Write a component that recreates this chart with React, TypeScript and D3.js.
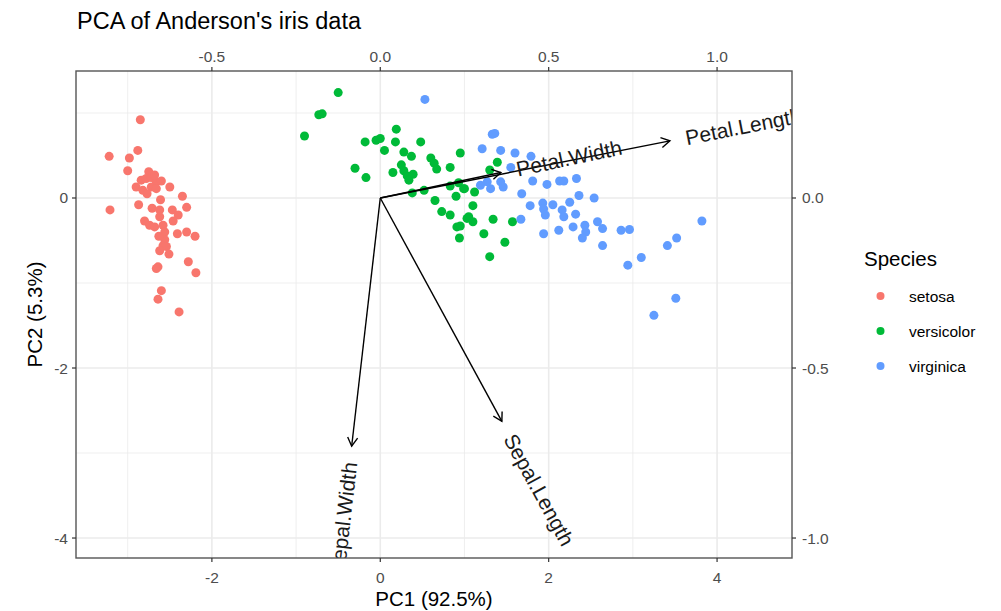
import React from "react";
import * as d3 from "d3";

// Principal component scores (PC1, PC2) per species
const setosa: [number, number][] = [
  [-2.85, 0.92], [-3.22, 0.49], [-2.98, 0.47], [-2.88, 0.56], [-3.0, 0.32], [-2.75, 0.31],
  [-2.84, 0.21], [-2.78, 0.23], [-2.72, 0.24], [-2.66, 0.19], [-2.6, 0.2], [-2.9, 0.13],
  [-2.82, 0.09], [-2.72, 0.13], [-2.66, 0.11], [-2.5, 0.13], [-2.35, 0.02], [-2.61, -0.02],
  [-3.21, -0.14], [-2.87, -0.08], [-2.71, -0.12], [-2.62, -0.14], [-2.47, -0.14], [-2.4, -0.2],
  [-2.3, -0.11], [-2.62, -0.22], [-2.8, -0.27], [-2.74, -0.32], [-2.68, -0.34], [-2.58, -0.32],
  [-2.56, -0.4], [-2.41, -0.42], [-2.3, -0.4], [-2.2, -0.45], [-2.56, -0.49], [-2.58, -0.56],
  [-2.54, -0.57], [-2.62, -0.62], [-2.51, -0.66], [-2.28, -0.75], [-2.19, -0.88], [-2.64, -0.81],
  [-2.66, -0.83], [-2.6, -1.09], [-2.64, -1.19], [-2.39, -1.34], [-2.68, 0.27], [-2.77, 0.05],
  [-2.63, -0.45], [-2.46, -0.27],
];

const versicolor: [number, number][] = [
  [-0.5, 1.24], [-0.73, 0.98], [-0.69, 0.99], [-0.9, 0.73], [-0.18, 0.66], [-0.05, 0.68],
  [0.0, 0.7], [0.19, 0.81], [0.18, 0.66], [0.05, 0.56], [0.48, 0.66], [0.28, 0.54],
  [0.37, 0.49], [0.95, 0.53], [0.6, 0.47], [0.64, 0.41], [0.67, 0.34], [0.83, 0.36],
  [-0.3, 0.35], [-0.17, 0.24], [0.15, 0.3], [0.25, 0.39], [0.28, 0.32], [0.32, 0.26],
  [0.39, 0.28], [0.34, 0.21], [0.38, 0.06], [0.52, 0.09], [0.83, 0.14], [0.93, 0.18],
  [0.99, 0.11], [0.9, 0.02], [0.65, -0.03], [0.73, -0.16], [0.83, -0.2], [1.03, -0.24],
  [0.91, -0.34], [0.95, -0.33], [0.94, -0.47], [1.39, 0.42], [1.3, 0.33], [1.0, 0.11],
  [1.12, 0.07], [1.1, -0.09], [1.05, -0.22], [1.1, -0.28], [1.34, -0.25], [1.57, -0.28],
  [1.23, -0.42], [1.48, -0.52], [1.3, -0.69],
];

const virginica: [number, number][] = [
  [0.53, 1.16], [1.33, 0.75], [1.36, 0.76], [1.21, 0.58], [1.43, 0.56], [1.6, 0.53],
  [1.79, 0.49], [1.55, 0.36], [1.19, 0.15], [1.31, 0.11], [1.43, 0.19], [1.46, 0.13],
  [1.81, 0.2], [1.98, 0.16], [2.13, 0.2], [2.18, 0.2], [2.33, 0.23], [2.36, 0.03],
  [2.54, 0.0], [1.78, -0.09], [1.93, -0.06], [1.94, -0.13], [1.96, -0.2], [2.16, -0.14],
  [2.18, -0.22], [2.32, -0.19], [1.67, -0.25], [2.12, -0.38], [2.29, -0.34], [2.43, -0.32],
  [2.44, -0.4], [2.58, -0.28], [2.64, -0.36], [1.94, -0.42], [2.4, -0.47], [2.64, -0.56],
  [2.86, -0.38], [2.96, -0.37], [2.94, -0.79], [3.82, -0.27], [3.52, -0.47], [3.41, -0.56],
  [3.1, -0.7], [3.51, -1.18], [3.25, -1.38], [1.27, 0.19], [1.68, 0.05], [2.05, -0.08],
  [2.25, -0.05],
];

// Variable loadings on PC1 / PC2
const loadingNames = ["Sepal.Length", "Sepal.Width", "Petal.Length", "Petal.Width"];
const loadingPC1 = [0.361, -0.085, 0.86, 0.358];
const loadingPC2 = [-0.657, -0.73, 0.168, 0.075];

const speciesNames = ["setosa", "versicolor", "virginica"];
const speciesColors = ["#F8766D", "#00BA38", "#619CFF"];

const xMajor = [-2, 0, 2, 4];
const xMinor = [-3, -1, 1, 3];
const yMajor = [0, -2, -4];
const yMinor = [1, -1, -3];
const topTicks = [-0.5, 0, 0.5, 1.0];
const rightTicks = [0, -0.5, -1.0];

const W = 1001;
const H = 611;
const panel = { left: 76, right: 792, top: 71, bottom: 558 };

export default function App() {
  const x = d3.scaleLinear().domain([-3.614, 4.89]).range([panel.left, panel.right]);
  const y = d3.scaleLinear().domain([-4.235, 1.494]).range([panel.bottom, panel.top]);
  // loadings share the panel with a 1/4 scale factor
  const x2 = d3.scaleLinear().domain(x.domain().map((v) => v / 4)).range(x.range());
  const y2 = d3.scaleLinear().domain(y.domain().map((v) => v / 4)).range(y.range());

  const font = "'Liberation Sans', Arial, Helvetica, sans-serif";
  const tickCol = "#4D4D4D";
  const groups = [setosa, versicolor, virginica];

  const ox = x2(0);
  const oy = y2(0);
  const headLen = 10;
  const headAng = Math.PI / 6;

  const arrows = loadingNames.map((name, i) => {
    const ex = x2(loadingPC1[i]);
    const ey = y2(loadingPC2[i]);
    const a = Math.atan2(ey - oy, ex - ox);
    const h1 = [ex - headLen * Math.cos(a - headAng), ey - headLen * Math.sin(a - headAng)];
    const h2 = [ex - headLen * Math.cos(a + headAng), ey - headLen * Math.sin(a + headAng)];
    const off = 16;
    const tx = ex + off * Math.cos(a);
    const ty = ey + off * Math.sin(a);
    const dx = ex - ox;
    const rot = (Math.atan((ey - oy) / dx) * 180) / Math.PI;
    return { name, ex, ey, h1, h2, tx, ty, rot, anchor: dx >= 0 ? "start" : "end" };
  });

  return (
    <svg width={W} height={H} style={{ position: "absolute", left: 0, top: 0, background: "#fff" }} fontFamily={font}>
      <defs>
        <clipPath id="panelClip">
          <rect x={panel.left} y={panel.top} width={panel.right - panel.left} height={panel.bottom - panel.top} />
        </clipPath>
      </defs>
      <rect x={0} y={0} width={W} height={H} fill="#fff" />

      {/* grid */}
      <g stroke="#EBEBEB">
        {xMinor.map((v) => (
          <line key={"xm" + v} x1={x(v)} x2={x(v)} y1={panel.top} y2={panel.bottom} strokeWidth={0.8} />
        ))}
        {yMinor.map((v) => (
          <line key={"ym" + v} y1={y(v)} y2={y(v)} x1={panel.left} x2={panel.right} strokeWidth={0.8} />
        ))}
        {xMajor.map((v) => (
          <line key={"xM" + v} x1={x(v)} x2={x(v)} y1={panel.top} y2={panel.bottom} strokeWidth={1.6} />
        ))}
        {yMajor.map((v) => (
          <line key={"yM" + v} y1={y(v)} y2={y(v)} x1={panel.left} x2={panel.right} strokeWidth={1.6} />
        ))}
      </g>

      <g clipPath="url(#panelClip)">
        {/* scores */}
        {groups.map((pts, gi) =>
          pts.map((p, i) => (
            <circle key={gi + "-" + i} cx={x(p[0])} cy={y(p[1])} r={4.5} fill={speciesColors[gi]} />
          ))
        )}
        {/* loading arrows */}
        {arrows.map((ar) => (
          <g key={ar.name} stroke="#000" strokeWidth={1.4} fill="none">
            <line x1={ox} y1={oy} x2={ar.ex} y2={ar.ey} />
            <polyline points={`${ar.h1[0]},${ar.h1[1]} ${ar.ex},${ar.ey} ${ar.h2[0]},${ar.h2[1]}`} />
          </g>
        ))}
        {arrows.map((ar) => (
          <text
            key={"t" + ar.name}
            x={ar.tx}
            y={ar.ty}
            transform={`rotate(${ar.rot},${ar.tx},${ar.ty})`}
            textAnchor={ar.anchor}
            dominantBaseline="central"
            fontSize={21}
            fill="#1a1a1a"
          >
            {ar.name}
          </text>
        ))}
      </g>

      {/* panel border */}
      <rect
        x={panel.left}
        y={panel.top}
        width={panel.right - panel.left}
        height={panel.bottom - panel.top}
        fill="none"
        stroke="#555"
        strokeWidth={1.4}
      />

      {/* bottom axis */}
      {xMajor.map((v) => (
        <g key={"bx" + v}>
          <line x1={x(v)} x2={x(v)} y1={panel.bottom} y2={panel.bottom + 4} stroke="#333" strokeWidth={1.2} />
          <text x={x(v)} y={583} textAnchor="middle" fontSize={15.5} fill={tickCol}>
            {String(v)}
          </text>
        </g>
      ))}
      {/* top axis */}
      {topTicks.map((v) => (
        <g key={"tx" + v}>
          <line x1={x2(v)} x2={x2(v)} y1={panel.top} y2={panel.top - 4} stroke="#333" strokeWidth={1.2} />
          <text x={x2(v)} y={62} textAnchor="middle" fontSize={15.5} fill={tickCol}>
            {v.toFixed(1)}
          </text>
        </g>
      ))}
      {/* left axis */}
      {yMajor.map((v) => (
        <g key={"ly" + v}>
          <line x1={panel.left - 4} x2={panel.left} y1={y(v)} y2={y(v)} stroke="#333" strokeWidth={1.2} />
          <text x={68} y={y(v)} textAnchor="end" dominantBaseline="central" fontSize={15.5} fill={tickCol}>
            {String(v)}
          </text>
        </g>
      ))}
      {/* right axis */}
      {rightTicks.map((v) => (
        <g key={"ry" + v}>
          <line x1={panel.right} x2={panel.right + 4} y1={y2(v)} y2={y2(v)} stroke="#333" strokeWidth={1.2} />
          <text x={802} y={y2(v)} dominantBaseline="central" fontSize={15.5} fill={tickCol}>
            {v.toFixed(1)}
          </text>
        </g>
      ))}

      {/* axis titles */}
      <text x={(panel.left + panel.right) / 2} y={606} textAnchor="middle" fontSize={20.5} fill="#000">
        PC1 (92.5%)
      </text>
      <text
        transform={`translate(42,${(panel.top + panel.bottom) / 2}) rotate(-90)`}
        textAnchor="middle"
        fontSize={20.5}
        fill="#000"
      >
        PC2 (5.3%)
      </text>

      {/* title */}
      <text x={77} y={29} fontSize={23.5} fill="#000">
        PCA of Anderson's iris data
      </text>

      {/* legend */}
      <text x={864} y={266} fontSize={20.5} fill="#000">
        Species
      </text>
      {speciesNames.map((s, i) => (
        <g key={s}>
          <circle cx={880.5} cy={296 + i * 35} r={4} fill={speciesColors[i]} />
          <text x={909} y={296 + i * 35} dominantBaseline="central" fontSize={15.5} fill="#000">
            {s}
          </text>
        </g>
      ))}
    </svg>
  );
}
